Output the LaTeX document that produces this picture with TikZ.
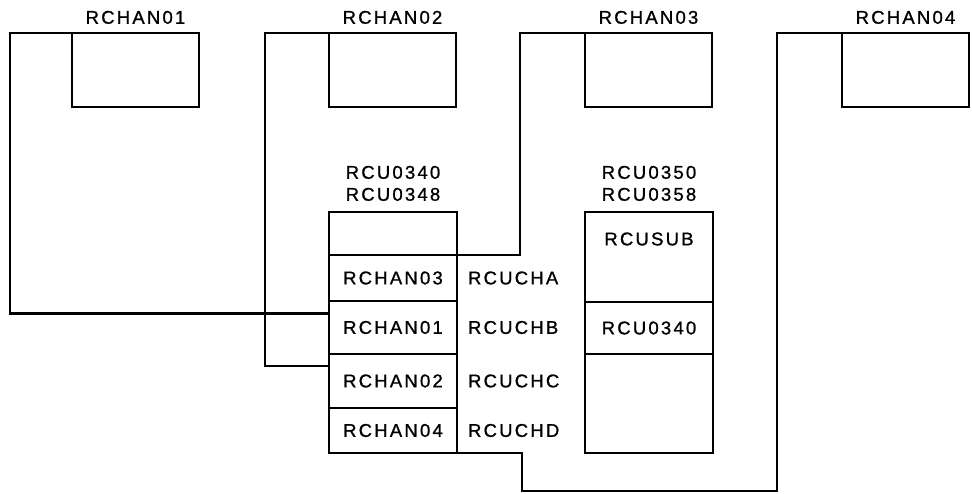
\documentclass[tikz,border=0pt]{standalone}
\usepackage{fontspec}
\setmainfont{Liberation Sans}[LetterSpace=12, FakeBold=1]
\usetikzlibrary{positioning}
\tikzstyle{wire} = [line width=2.1pt]

\begin{document}
\begin{tikzpicture}[x=1pt, y=-1pt, line width=2.1pt, font=\fontsize{18.5}{22}\selectfont]
        \tikzstyle{chan}=[rectangle, draw, minimum width=127pt, minimum height=74pt, inner sep=0pt, outer sep=0pt]
        \tikzstyle{cell}=[rectangle, draw, minimum width=128pt, inner sep=0pt, outer sep=0pt]
        \tikzstyle{lbl}=[inner sep=0pt]
        \useasboundingbox (0,0) rectangle (972,494);
        \node (c1) [chan, anchor=north west] at (72,33) {};
        \node (c2) [chan, right=130pt of c1] {};
        \node (c3) [chan, right=129pt of c2] {};
        \node (c4) [chan, right=130pt of c3] {};
        \node (t1) [lbl, above=8pt of c1] {RCHAN01};
        \node (t2) [lbl, above=8pt of c2] {RCHAN02};
        \node (t3) [lbl, above=8pt of c3] {RCHAN03};
        \node (t4) [lbl, above=8pt of c4] {RCHAN04};
        \node (u0) [cell, anchor=north west, minimum height=43pt] at (329,212) {};
        \node (u1) [cell, below=0pt of u0, minimum height=46pt] {RCHAN03};
        \node (u2) [cell, below=0pt of u1, minimum height=53pt] {RCHAN01};
        \node (u3) [cell, below=0pt of u2, minimum height=54pt] {RCHAN02};
        \node (u4) [cell, below=0pt of u3, minimum height=45pt] {RCHAN04};
        \node (hu) [lbl, above=10pt of u0, align=center] {RCU0340\\RCU0348};
        \node (ra) [lbl, right=10pt of u1] {RCUCHA};
        \node (rb) [lbl, right=10pt of u2] {RCUCHB};
        \node (rc) [lbl, right=10pt of u3] {RCUCHC};
        \node (rd) [lbl, right=10pt of u4] {RCUCHD};
        \node (s0) [cell, anchor=north west, minimum height=90pt] at (585,212) {};
        \node (s1) [cell, below=0pt of s0, minimum height=52pt] {RCU0340};
        \node (s2) [cell, below=0pt of s1, minimum height=99pt] {};
        \node (sub) [lbl] at ([yshift=-27pt]s0.north) {RCUSUB};
        \node (hs) [lbl, above=10pt of s0, align=center] {RCU0350\\RCU0358};
        \coordinate (b4) at (522,491);
        \draw[wire] (c1.north west) -- ++(-62,0) |- ([yshift=14pt]u2.west);
        \draw[wire] (c2.north west) -- ++(-64,0) |- ([yshift=15pt]u3.west);
        \draw[wire] (c3.north west) -- ++(-65,0) |- (u1.north east);
        \draw[wire] (c4.north west) -- ++(-65,0) |- (b4) |- (u4.south east);
    \end{tikzpicture}
\end{document}
